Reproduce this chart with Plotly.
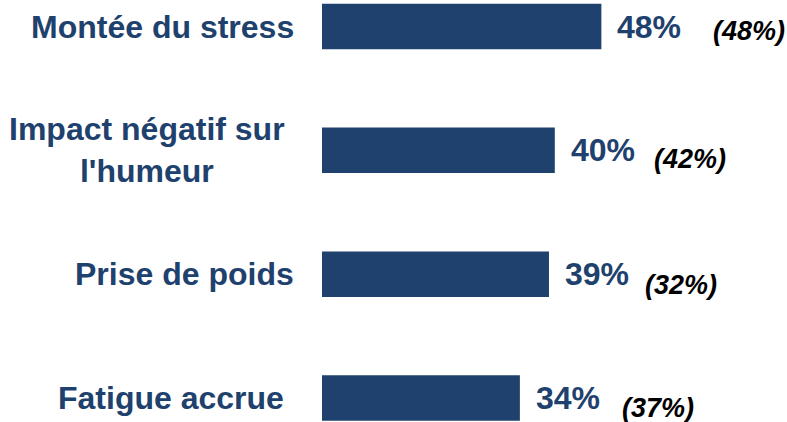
import plotly.graph_objects as go

categories = ["Montée du stress", "Impact négatif sur<br>l'humeur", "Prise de poids", "Fatigue accrue"]
values = [48, 40, 39, 34]
previous = ["(48%)", "(42%)", "(32%)", "(37%)"]

NAVY = "#1E416D"
FONT = "Liberation Sans, Arial, sans-serif"

W, H = 787, 422
LEFT = 322
plot_w = W - LEFT
px_per_unit = 5.82
xmax = plot_w / px_per_unit

ypos = list(range(len(categories)))

fig = go.Figure(go.Bar(
    x=values, y=ypos, orientation="h",
    marker=dict(color=NAVY, line=dict(width=0)),
    width=0.368, hoverinfo="skip",
))

# layout offsets (pixels) for the text blocks
label_center_px = [162, 147, 184, 171]
label_dy = [0, 0, 0, 0]
note_left_px = [711, 652, 643, 620]
note_dy = [-4, -9, -11, -10]

anns = []
for i, (c, v, p) in enumerate(zip(categories, values, previous)):
    anns.append(dict(
        x=(label_center_px[i] - LEFT) / plot_w, xref="paper", y=i, yref="y",
        text=f"<b>{c}</b>", showarrow=False, xanchor="center", yanchor="middle",
        align="center", font=dict(family=FONT, size=32, color=NAVY),
        yshift=label_dy[i],
    ))
    anns.append(dict(
        x=v, xref="x", y=i, yref="y", text=f"<b>{v}%</b>", showarrow=False,
        xanchor="left", yanchor="middle", xshift=14,
        font=dict(family=FONT, size=32, color=NAVY),
    ))
    anns.append(dict(
        x=(note_left_px[i] - LEFT) / plot_w, xref="paper", y=i, yref="y",
        text=f"<b><i>{p}</i></b>", showarrow=False, xanchor="left", yanchor="middle",
        yshift=note_dy[i], font=dict(family=FONT, size=27, color="black"),
    ))

top_y = 0 - 26.5 / 123.8
bot_y = 3 + (H - 398) / 123.8

fig.update_layout(
    width=W, height=H,
    margin=dict(l=LEFT, r=0, t=0, b=0),
    paper_bgcolor="white", plot_bgcolor="white",
    showlegend=False,
    xaxis=dict(range=[0, xmax], visible=False, fixedrange=True),
    yaxis=dict(range=[bot_y, top_y], visible=False, fixedrange=True),
    annotations=anns,
)

fig.write_html(
    "out.html",
    config={"displayModeBar": False},
    post_script="document.body.style.margin='0';document.body.style.overflow='hidden';",
)
